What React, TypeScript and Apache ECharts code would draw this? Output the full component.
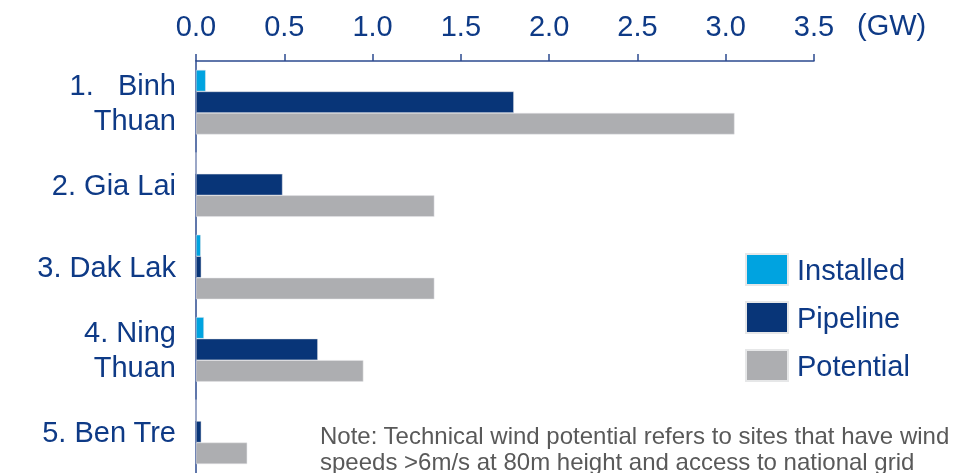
import React, { useEffect, useRef } from "react";
import * as echarts from "echarts";

const categories = ["1.   Binh\nThuan", "2. Gia Lai", "3. Dak Lak", "4. Ning\nThuan", "5. Ben Tre"];
const installed = [0.055, 0, 0.027, 0.045, 0];
const pipeline = [1.8, 0.49, 0.03, 0.69, 0.03];
const potential = [3.05, 1.35, 1.35, 0.948, 0.29];
const seriesNames = ["Installed", "Pipeline", "Potential"];
const seriesColors = ["#00A3E0", "#083578", "#ADAEB1"];
const axisTicks = { min: 0, max: 3.5, interval: 0.5 };
const unitLabel = "(GW)";
const noteLines = [
  "Note: Technical wind potential refers to sites that have wind",
  "speeds >6m/s at 80m height and access to national grid",
];

const NAVY = "#0E3A86";
const FONT = "'Liberation Sans', Arial, sans-serif";

export default function App() {
  const ref = useRef<HTMLDivElement>(null);
  useEffect(() => {
    if (!ref.current) return;
    const chart = echarts.init(ref.current, undefined, { renderer: "svg" });
    const data = [installed, pipeline, potential];
    chart.setOption({
      animation: false,
      textStyle: { fontFamily: FONT },
      grid: { left: 196, right: 144, top: 61, bottom: 0, containLabel: false },
      xAxis: {
        type: "value",
        position: "top",
        min: axisTicks.min,
        max: axisTicks.max,
        interval: axisTicks.interval,
        axisLine: { show: true, lineStyle: { color: "#2B4A8F", width: 1.5 } },
        axisTick: { show: true, length: 7, lineStyle: { color: "#2B4A8F", width: 1.5 } },
        splitLine: { show: false },
        axisLabel: {
          color: NAVY,
          fontSize: 29,
          fontFamily: FONT,
          margin: 21,
          formatter: (v: number) => v.toFixed(1),
        },
      },
      yAxis: {
        type: "category",
        inverse: true,
        data: categories,
        axisLine: { show: true, lineStyle: { color: "#2B4A8F", width: 1.5 } },
        axisTick: { show: false },
        axisLabel: {
          color: NAVY,
          fontSize: 29,
          fontFamily: FONT,
          margin: 20,
          lineHeight: 35,
          align: "right",
        },
      },
      legend: {
        orient: "vertical",
        left: 745,
        top: 253,
        padding: 0,
        itemWidth: 42,
        itemHeight: 31,
        itemGap: 15,
        icon: "rect",
        data: seriesNames,
        textStyle: { color: NAVY, fontSize: 29, fontFamily: FONT, lineHeight: 31, padding: [0, 0, 0, 4] },
      },
      series: seriesNames.map((name, i) => ({
        name,
        type: "bar",
        data: data[i],
        barWidth: 21.5,
        barGap: "0%",
        itemStyle: { color: seriesColors[i], borderColor: "#E6E7E8", borderWidth: 0.5 },
      })),
      graphic: [
        {
          type: "text",
          left: 857,
          top: 10,
          style: { text: unitLabel, fill: NAVY, font: `29px ${FONT}` },
        },
        ...noteLines.map((line, i) => ({
          type: "text",
          left: 320,
          top: 423 + i * 26,
          style: {
            text: line,
            fill: "#595959",
            font: `24px ${FONT}`,
            lineHeight: 24,
          },
        })),
      ],
    });
    return () => chart.dispose();
  }, []);
  return <div ref={ref} style={{ position: "fixed", left: 0, top: 0, width: 958, height: 473 }} />;
}
